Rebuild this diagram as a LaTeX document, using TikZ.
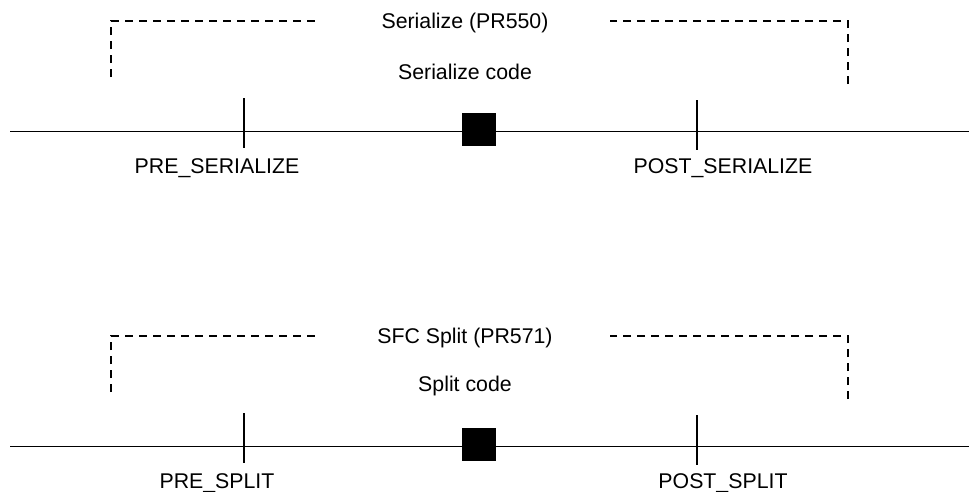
\documentclass[tikz,border=0pt]{standalone}
\usepackage{fontspec}
\setmainfont{Liberation Sans}
\begin{document}
\begin{tikzpicture}[x=1pt,y=-1pt,
  axis/.style={line width=1.5pt},
  tick/.style={line width=1.5pt},
  bracket/.style={line width=1.6pt, dash pattern=on 8pt off 6pt},
  marker/.style={draw, fill=black, minimum width=33pt, minimum height=32pt, inner sep=0pt, line width=0.5pt},
  lbl/.style={font=\fontsize{21.3}{24}\selectfont, inner sep=0pt, anchor=base}
]
\useasboundingbox (0,0) rectangle (969,491);

% one timeline: #1 name suffix, #2 vertical offset, #3 title, #4 code label,
% #5 pre label, #6 post label, #7 baseline of the code label
\newcommand{\timeline}[7]{%
  \begin{scope}[yshift=-#2pt]
    % heading and bracket
    \node[lbl] (title#1) at (465,28.5) {#3};
    \node[lbl] (code#1) at (465,#7) {#4};
    \coordinate (bl#1) at (111,77);
    \coordinate (blc#1) at (111,21);
    \coordinate (ble#1) at (318,21);
    \coordinate (brs#1) at (610,21);
    \coordinate (brc#1) at (848,21);
    \coordinate (bre#1) at (848,84);
    \draw[bracket] (bl#1) -- (blc#1) -- (ble#1);
    \draw[bracket] (bre#1) -- (brc#1) -- (brs#1);
    % time axis
    \coordinate (ax0#1) at (10,131.5);
    \coordinate (ax1#1) at (969,131.5);
    \draw[axis] (ax0#1) -- (ax1#1);
    \node[marker] (mark#1) at (478.5,129) {};
    % hook points
    \coordinate (preT#1) at (244,98);
    \coordinate (preB#1) at (244,148);
    \coordinate (postT#1) at (697,100);
    \coordinate (postB#1) at (697,150);
    \draw[tick] (preT#1) -- (preB#1);
    \draw[tick] (postT#1) -- (postB#1);
    \node[lbl] (pre#1) at (217,173) {#5};
    \node[lbl] (post#1) at (723,173) {#6};
  \end{scope}%
}

\timeline{a}{0}{Serialize (PR550)}{Serialize code}{PRE\_SERIALIZE}{POST\_SERIALIZE}{79}
\timeline{b}{315}{SFC Split (PR571)}{Split code}{PRE\_SPLIT}{POST\_SPLIT}{76}
\end{tikzpicture}
\end{document}
